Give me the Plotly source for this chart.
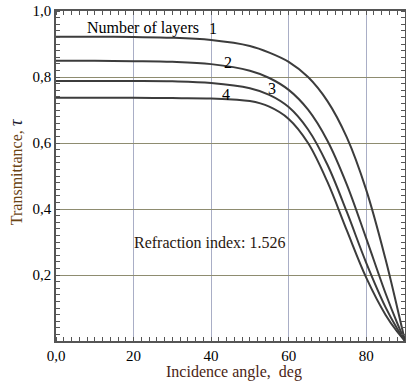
import plotly.graph_objects as go

angles = [0, 10, 20, 30, 40, 50, 55, 60, 65, 70, 75, 80, 85, 88, 90]
layers_1 = [0.922, 0.922, 0.921, 0.919, 0.912, 0.894, 0.874, 0.846, 0.800, 0.727, 0.617, 0.458, 0.247, 0.101, 0.0]
layers_2 = [0.849, 0.849, 0.848, 0.846, 0.839, 0.819, 0.797, 0.761, 0.701, 0.607, 0.474, 0.311, 0.144, 0.054, 0.0]
layers_3 = [0.788, 0.788, 0.788, 0.787, 0.782, 0.766, 0.746, 0.709, 0.641, 0.534, 0.391, 0.237, 0.102, 0.037, 0.0]
layers_4 = [0.737, 0.737, 0.737, 0.736, 0.735, 0.727, 0.710, 0.673, 0.600, 0.482, 0.335, 0.192, 0.079, 0.028, 0.0]
series = [("1", layers_1), ("2", layers_2), ("3", layers_3), ("4", layers_4)]

x_tickvals = [0, 20, 40, 60, 80]
x_ticktext = ["0,0", "20", "40", "60", "80"]
y_tickvals = [0.2, 0.4, 0.6, 0.8, 1.0]
y_ticktext = ["0,2", "0,4", "0,6", "0,8", "1,0"]

FONT = "Liberation Serif, Times New Roman, serif"

fig = go.Figure()
for name, vals in series:
    fig.add_trace(go.Scatter(x=angles, y=vals, mode="lines", name=name,
                             line=dict(color="#3c3c3c", width=2, shape="spline"),
                             showlegend=False, hoverinfo="skip"))

fig.update_layout(
    width=406, height=381,
    margin=dict(l=56, r=1, t=11, b=40, autoexpand=False),
    paper_bgcolor="white", plot_bgcolor="white",
    font=dict(family=FONT, size=15, color="black"),
    xaxis=dict(range=[0, 90], tickvals=x_tickvals, ticktext=x_ticktext,
               showgrid=True, gridcolor="#a9aec6", gridwidth=1,
               showline=True, linecolor="#555555", linewidth=1.5, mirror="ticks",
               ticks="", zeroline=False, automargin=False,
               minor=dict(ticks="inside", dtick=2, ticklen=4, tickcolor="#555555", showgrid=False),
               tickfont=dict(size=15)),
    yaxis=dict(range=[0, 1.0], tickvals=y_tickvals, ticktext=y_ticktext,
               showgrid=True, gridcolor="#8e8c70", gridwidth=1,
               showline=True, linecolor="#555555", linewidth=1.5, mirror="ticks",
               ticks="", zeroline=False, automargin=False,
               minor=dict(ticks="inside", dtick=0.02, ticklen=4, tickcolor="#555555", showgrid=False),
               tickfont=dict(size=15)),
)

annotations = [
    dict(x=0.51, y=-0.094, xref="paper", yref="paper", text="Incidence angle,  deg",
         showarrow=False, font=dict(size=16, color="#4a2414"),
         xanchor="center", yanchor="middle"),
    dict(x=-0.117, y=0.512, xref="paper", yref="paper",
         text="Transmittance, <i><span style='font-size:19px;color:#1a1a30'>τ</span></i>",
         textangle=-90, showarrow=False, font=dict(size=16, color="#6a4414"),
         xanchor="center", yanchor="middle"),
    dict(x=22.4, y=0.948, text="Number of layers", showarrow=False, font=dict(size=16)),
    dict(x=40.6, y=0.948, text="1", showarrow=False, font=dict(size=16)),
    dict(x=44.4, y=0.843, text="2", showarrow=False, font=dict(size=16)),
    dict(x=55.7, y=0.764, text="3", showarrow=False, font=dict(size=16)),
    dict(x=43.8, y=0.748, text="4", showarrow=False, font=dict(size=16)),
    dict(x=39.7, y=0.297, text="Refraction index: 1.526", showarrow=False,
         font=dict(size=16, color="#2a1810")),
]
fig.update_layout(annotations=annotations)

fig.write_html("out.html", config={"displayModeBar": False},
               post_script="document.body.style.margin='0';document.body.style.overflow='hidden';")
